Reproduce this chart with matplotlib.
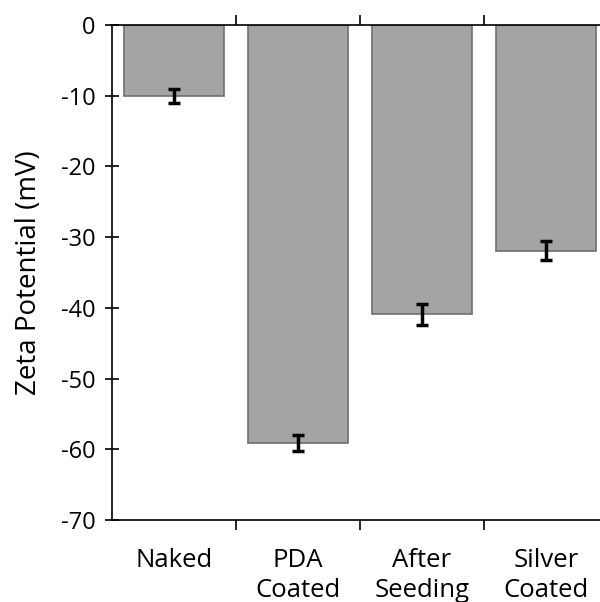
import matplotlib.pyplot as plt

plt.rcParams['font.family'] = ['Open Sans', 'DejaVu Sans']
plt.rcParams['axes.unicode_minus'] = False

categories = ['Naked', 'PDA\nCoated', 'After\nSeeding', 'Silver\nCoated']
zeta = [-10.0, -59.1, -40.9, -31.9]
zeta_err = [1.0, 1.1, 1.5, 1.3]

fig = plt.figure(figsize=(6.0, 6.02), dpi=100)
ax = fig.add_axes([112/600, 1 - 520/602, (600-112)/600, (520-25)/602])

x = range(len(categories))
ax.bar(x, zeta, width=0.8, color='#a4a4a4', edgecolor='#6e6e6e', linewidth=1.2,
       yerr=zeta_err, error_kw=dict(ecolor='black', elinewidth=2.5, capsize=4, capthick=2.5))

ax.set_xlim(-0.5, 3.435)
ax.set_ylim(-70, 0)
ax.set_yticks(range(-70, 1, 10))
ax.set_xticks(list(x))
ax.set_xticklabels(categories, fontsize=18.5, linespacing=1.25, va='top')
ax.set_xticks([0.5, 1.5, 2.5], minor=True)
ax.tick_params(axis='x', which='major', length=0, pad=20)
ax.tick_params(axis='x', which='minor', length=7, width=1.2, direction='out', top=True)
ax.tick_params(axis='y', labelsize=17, length=10, width=1.2, direction='inout', pad=7)
ax.spines['right'].set_visible(False)
for s in ['left', 'top', 'bottom']:
    ax.spines[s].set_linewidth(1.2)
ax.set_ylabel('Zeta Potential (mV)', fontsize=20, labelpad=13)

fig.savefig('out.png', dpi=100)
